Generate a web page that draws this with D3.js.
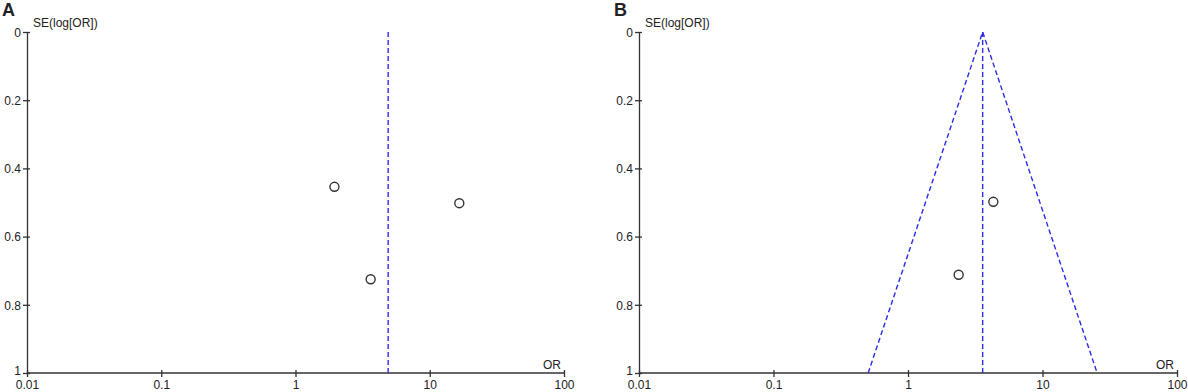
<!DOCTYPE html>
<html lang="en">
<head>
<meta charset="UTF-8">
<title>Funnel plots</title>
<script src="https://d3js.org/d3.v7.min.js"></script>
<style>
    body { margin: 0; background: #fff; }
    svg text { font-family: "Liberation Sans", Arial, sans-serif; fill: #222; }
    .axis path, .axis line { stroke: #333; stroke-width: 1.3; }
</style>
</head>
<body>
<svg id="chart" width="1188" height="392"></svg>
<script>
    // study values: odds ratio and SE(log OR)
    const panelNames = ["A", "B"];
    const studiesA_or = [1.95, 16.6, 3.63];
    const studiesA_se = [0.454, 0.502, 0.725];
    const studiesB_or = [4.31, 2.38];
    const studiesB_se = [0.498, 0.712];
    const pooledOR = [4.9, 3.59];
    const showFunnel = [false, true];
    const xTicks = [0.01, 0.1, 1, 10, 100];
    const yTicks = [0, 0.2, 0.4, 0.6, 0.8, 1];

    const panels = [
        { name: panelNames[0], or: studiesA_or, se: studiesA_se, pooled: pooledOR[0], funnel: showFunnel[0], left: 27, right: 564 },
        { name: panelNames[1], or: studiesB_or, se: studiesB_se, pooled: pooledOR[1], funnel: showFunnel[1], left: 639, right: 1177 }
    ];

    const svg = d3.select("#chart");
    const plotTop = 32, plotBottom = 373;

    panels.forEach(p => {
        const x = d3.scaleLog().domain([0.01, 100]).range([p.left, p.right]);
        const y = d3.scaleLinear().domain([0, 1]).range([plotTop, plotBottom]);
        const g = svg.append("g");

        // panel letter
        g.append("text")
            .attr("x", p.left - 25).attr("y", 16)
            .style("font-size", "18px").style("font-weight", "bold")
            .text(p.name);

        // y axis
        const yAxis = d3.axisLeft(y).tickValues(yTicks).tickFormat(d3.format("")).tickSizeInner(4).tickSizeOuter(0);
        const ya = g.append("g").attr("class", "axis").attr("transform", `translate(${p.left},0)`).call(yAxis);
        ya.selectAll(".tick line").attr("x1", 3);
        ya.selectAll("text").attr("x", -6).style("font-size", "12px")
            .attr("dy", d => d === 1 ? "0.1em" : "0.35em");

        // x axis
        const xAxis = d3.axisBottom(x).tickValues(xTicks).tickFormat(d => d).tickSizeInner(4).tickSizeOuter(0);
        const xa = g.append("g").attr("class", "axis").attr("transform", `translate(0,${plotBottom})`).call(xAxis);
        xa.selectAll(".tick line").attr("y1", -3);
        xa.selectAll("text").attr("y", 7).style("font-size", "12px");
        xa.select(".domain").attr("d", `M${p.left},0H${p.right}`);

        // axis titles
        g.append("text").attr("x", p.left + 6).attr("y", 27)
            .style("font-size", "12px").text("SE(log[OR])");
        g.append("text").attr("x", p.right - 3).attr("y", 369)
            .attr("text-anchor", "end").style("font-size", "12px").text("OR");

        // pooled estimate line
        g.append("line")
            .attr("x1", x(p.pooled)).attr("x2", x(p.pooled))
            .attr("y1", y(0)).attr("y2", y(1))
            .attr("stroke", "#2b2be8").attr("stroke-width", 1.4)
            .attr("stroke-dasharray", "5,3");

        // 95% pseudo confidence limits
        if (p.funnel) {
            const k = 1.96 / Math.LN10;
            const lo = Math.pow(10, Math.log10(p.pooled) - k);
            const hi = Math.pow(10, Math.log10(p.pooled) + k);
            const pts = [[lo, 1], [p.pooled, 0], [hi, 1]];
            g.append("path")
                .attr("d", d3.line().x(d => x(d[0])).y(d => y(d[1]))(pts))
                .attr("fill", "none")
                .attr("stroke", "#2b2be8").attr("stroke-width", 1.4)
                .attr("stroke-dasharray", "5,3");
        }

        // study points
        g.selectAll("circle.study")
            .data(p.or.map((v, i) => ({ or: v, se: p.se[i] })))
            .join("circle")
            .attr("class", "study")
            .attr("cx", d => x(d.or)).attr("cy", d => y(d.se))
            .attr("r", 4.5)
            .attr("fill", "none").attr("stroke", "#333").attr("stroke-width", 1.4);
    });
</script>
</body>
</html>
